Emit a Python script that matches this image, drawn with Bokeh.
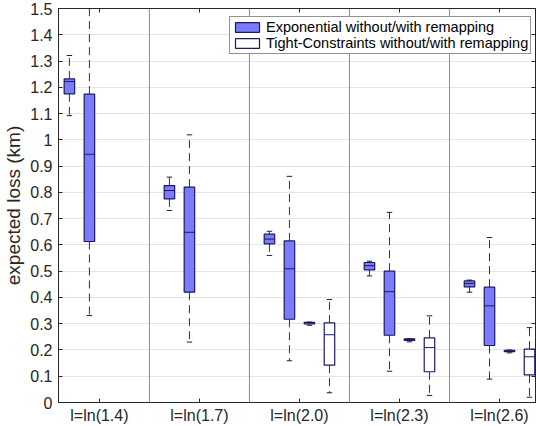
from bokeh.plotting import figure
from bokeh.models import (Range1d, FixedTicker, LinearAxis, CustomJSTickFormatter,
                          Legend, LegendItem, Span)
from bokeh.embed import file_html
from bokeh.resources import INLINE

# ---------------- data ----------------
groups = ["l=ln(1.4)", "l=ln(1.7)", "l=ln(2.0)", "l=ln(2.3)", "l=ln(2.6)"]
y_ticks = [0, 0.1, 0.2, 0.3, 0.4, 0.5, 0.6, 0.7, 0.8, 0.9, 1.0, 1.1, 1.2, 1.3, 1.4, 1.5]

# five-number summaries per group: (lower whisker, q1, median, q3, upper whisker)
exp_without = [
    (1.092, 1.175, 1.222, 1.232, 1.321),
    (0.731, 0.775, 0.807, 0.826, 0.858),
    (0.560, 0.604, 0.622, 0.641, 0.652),
    (0.482, 0.505, 0.521, 0.533, 0.538),
    (0.420, 0.440, 0.453, 0.463, 0.466),
]
exp_with = [
    (0.331, 0.613, 0.945, 1.174, 1.600),
    (0.230, 0.420, 0.648, 0.820, 1.019),
    (0.159, 0.317, 0.509, 0.615, 0.861),
    (0.119, 0.256, 0.422, 0.500, 0.724),
    (0.089, 0.217, 0.368, 0.439, 0.628),
]
tc_without = [
    None,
    None,
    (0.294, 0.299, 0.303, 0.305, 0.306),
    (0.231, 0.236, 0.240, 0.242, 0.243),
    (0.189, 0.194, 0.197, 0.199, 0.200),
]
tc_with = [
    None,
    None,
    (0.037, 0.142, 0.258, 0.303, 0.392),
    (0.027, 0.117, 0.209, 0.246, 0.330),
    (0.020, 0.105, 0.174, 0.203, 0.285),
]

legend_labels = ["Exponential without/with remapping",
                 "Tight-Constraints without/with remapping"]

# ---------------- styling ----------------
FONT = "Liberation Sans"
TXT = "#262626"
BLUE = "#7b7bfb"
EDGE = "#1a1a66"
BOX_W = 0.105
CAP_W = 0.055

p = figure(width=536, height=426, output_backend="svg", toolbar_location=None,
           x_range=Range1d(0.591, 5.36), y_range=Range1d(0, 1.5),
           min_border_left=55, min_border_right=1, min_border_top=8, min_border_bottom=24)
p.background_fill_color = "white"
p.border_fill_color = "white"
p.outline_line_color = TXT
p.outline_line_width = 1

p.xgrid.grid_line_color = None
p.ygrid.grid_line_color = "#e4e4e4"
p.ygrid.ticker = FixedTicker(ticks=y_ticks)

cat_pos = list(range(1, len(groups) + 1))

# x axis (bottom)
p.xaxis.ticker = FixedTicker(ticks=cat_pos)
p.xaxis.major_label_overrides = {k: g for k, g in zip(cat_pos, groups)}
p.xaxis.major_label_text_font = FONT
p.xaxis.major_label_text_font_size = "16px"
p.xaxis.major_label_text_color = TXT
p.xaxis.major_label_standoff = 4
p.xaxis.major_tick_in = 4
p.xaxis.major_tick_out = 0
p.xaxis.minor_tick_line_color = None
p.xaxis.axis_line_color = TXT
p.xaxis.major_tick_line_color = TXT

# y axis (left)
p.yaxis.ticker = FixedTicker(ticks=y_ticks)
p.yaxis.formatter = CustomJSTickFormatter(code="return tick.toFixed(1).replace(/\\.0$/, '');")
p.yaxis.major_label_text_font = FONT
p.yaxis.major_label_text_font_size = "16px"
p.yaxis.major_label_text_color = TXT
p.yaxis.major_label_standoff = 6
p.yaxis.major_tick_in = 4
p.yaxis.major_tick_out = 0
p.yaxis.minor_tick_line_color = None
p.yaxis.axis_line_color = TXT
p.yaxis.major_tick_line_color = TXT
p.yaxis.axis_label = "expected loss (km)"
p.yaxis.axis_label_text_font = FONT
p.yaxis.axis_label_text_font_size = "19px"
p.yaxis.axis_label_text_font_style = "normal"
p.yaxis.axis_label_text_color = TXT
p.yaxis.axis_label_standoff = 3

# box axes (top / right): ticks only, no labels
top = LinearAxis(ticker=FixedTicker(ticks=cat_pos), major_label_text_font_size="1px",
                 major_label_text_color=None, major_label_standoff=0,
                 major_tick_in=4, major_tick_out=0,
                 minor_tick_line_color=None, axis_line_color=TXT, major_tick_line_color=TXT)
p.add_layout(top, "above")
right = LinearAxis(ticker=FixedTicker(ticks=y_ticks), major_label_text_font_size="1px",
                   major_label_text_color=None, major_label_standoff=0,
                   major_tick_in=4, major_tick_out=0,
                   minor_tick_line_color=None, axis_line_color=TXT, major_tick_line_color=TXT)
p.add_layout(right, "right")

# group separators
for a, b in zip(cat_pos[:-1], cat_pos[1:]):
    p.add_layout(Span(location=(a + b) / 2, dimension="height",
                      line_color="#8c8c8c", line_width=1))


def draw_series(stats, offset, fill):
    xs, lw, q1, med, q3, uw = [], [], [], [], [], []
    for pos, s in zip(cat_pos, stats):
        if s is None:
            continue
        xs.append(pos + offset)
        lw.append(s[0]); q1.append(s[1]); med.append(s[2]); q3.append(s[3]); uw.append(s[4])
    # whiskers
    p.segment(x0=xs, y0=q3, x1=xs, y1=uw, line_color="#333333", line_width=1, line_dash="8 5")
    p.segment(x0=xs, y0=q1, x1=xs, y1=lw, line_color="#333333", line_width=1, line_dash="8 5")
    left_c = [x - CAP_W / 2 for x in xs]
    right_c = [x + CAP_W / 2 for x in xs]
    p.segment(x0=left_c, y0=uw, x1=right_c, y1=uw, line_color="#222222", line_width=1)
    p.segment(x0=left_c, y0=lw, x1=right_c, y1=lw, line_color="#222222", line_width=1)
    # box
    r = p.quad(left=[x - BOX_W / 2 for x in xs], right=[x + BOX_W / 2 for x in xs],
               bottom=q1, top=q3, fill_color=fill, fill_alpha=1.0,
               line_color=EDGE, line_width=1.2)
    p.segment(x0=[x - BOX_W / 2 for x in xs], y0=med, x1=[x + BOX_W / 2 for x in xs], y1=med,
              line_color=EDGE, line_width=1)
    return r


r_exp = draw_series(exp_without, -0.3, BLUE)
draw_series(exp_with, -0.1, BLUE)
r_tc = draw_series(tc_without, 0.1, "white")
draw_series(tc_with, 0.3, "white")

legend = Legend(items=[LegendItem(label=legend_labels[0], renderers=[r_exp]),
                       LegendItem(label=legend_labels[1], renderers=[r_tc])],
                location=(171, 348))
legend.label_text_font = FONT
legend.label_text_font_size = "14.5px"
legend.label_text_color = "#000000"
legend.label_height = 13
legend.glyph_width = 30
legend.glyph_height = 12
legend.label_standoff = 4
legend.padding = 2
legend.spacing = 0
legend.margin = 0
legend.border_line_color = TXT
legend.border_line_width = 1
legend.background_fill_color = "white"
legend.background_fill_alpha = 1.0
p.add_layout(legend)

open("out.html", "w").write(file_html(p, INLINE))
